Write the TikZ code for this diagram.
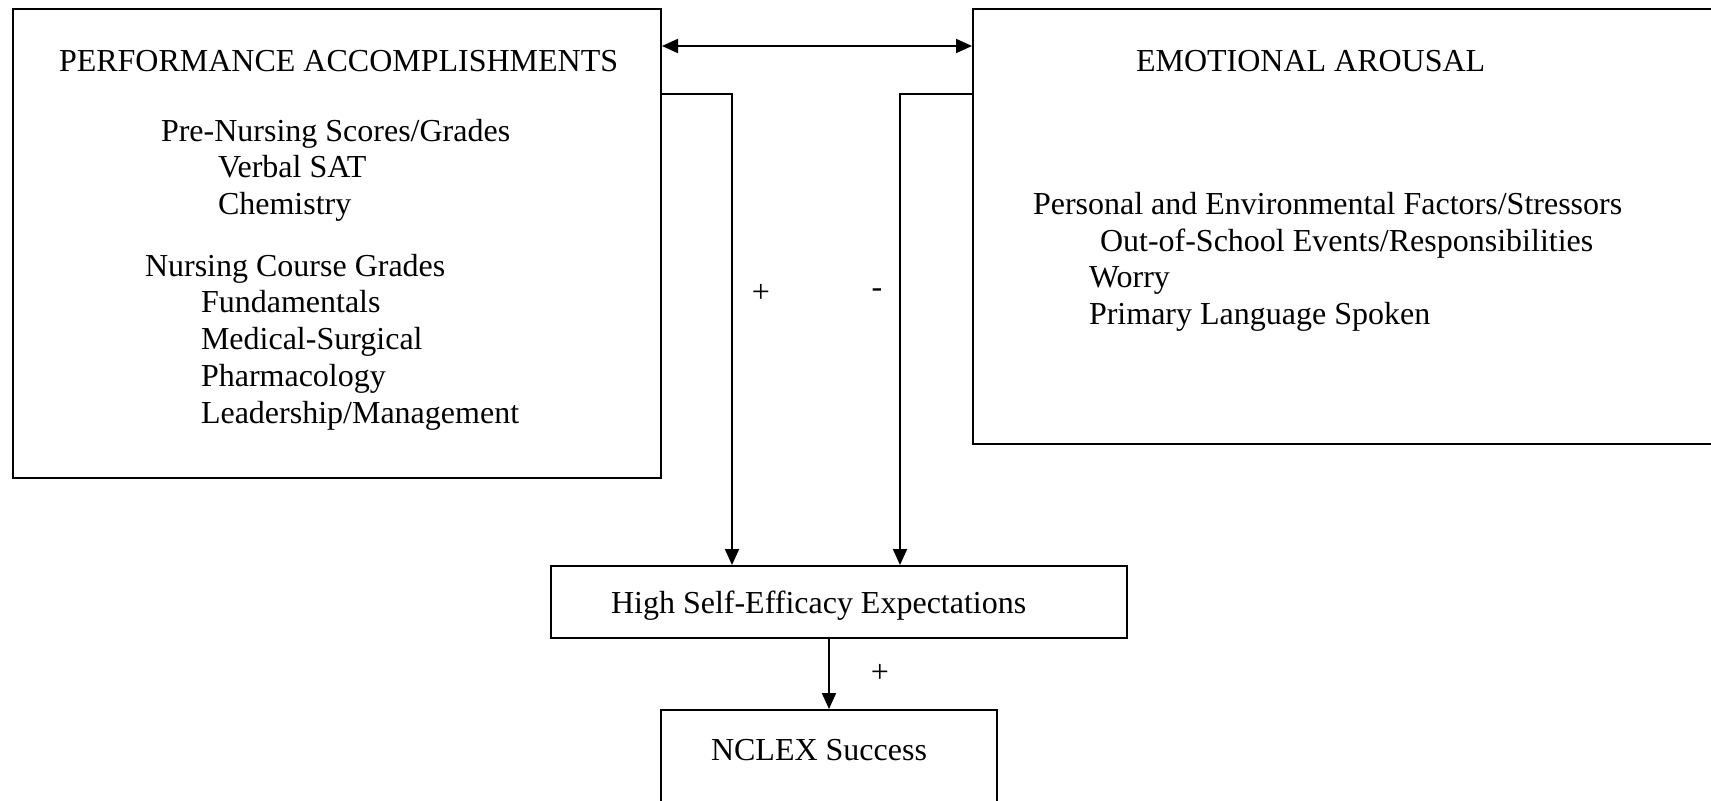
\documentclass[tikz,border=0pt]{standalone}
\usepackage{fontspec}
\setmainfont{Liberation Serif}
\usetikzlibrary{arrows.meta}

\begin{document}
\begin{tikzpicture}[x=0.5pt,y=-0.5pt,line width=1pt,>={Triangle[length=8pt,width=7pt]},
    font=\fontsize{16}{18.35}\selectfont,
    box/.style={draw,rectangle,inner sep=0pt},
    line/.style={anchor=base west,inner sep=0pt},
    sign/.style={inner sep=0pt}]
                        \useasboundingbox (0,0) rectangle (1711,801);

                        % boxes
                        \node[box,minimum width=324pt,minimum height=234.5pt] (perf) at (337,243.5) {};
                        \node[box,minimum width=393.5pt,minimum height=217.5pt] (emo) at (1366.5,226.5) {};
                        \node[box,minimum width=288pt,minimum height=36pt] (high) at (839,602) {};
                        \node[box,minimum width=168pt,minimum height=65pt] (nclex) at (829,775) {};

                        % texts
                        \node[line] (p0) at (58,72) {PERFORMANCE ACCOMPLISHMENTS};
                        \node[line] (p1) at (160,142) {Pre-Nursing Scores/Grades};
                        \node[line] (p2) at (217,178) {Verbal SAT};
                        \node[line] (p3) at (217,215) {Chemistry};
                        \node[line] (p4) at (144,277) {Nursing Course Grades};
                        \node[line] (p5) at (200,313) {Fundamentals};
                        \node[line] (p6) at (200,350) {Medical-Surgical};
                        \node[line] (p7) at (200,387) {Pharmacology};
                        \node[line] (p8) at (200,423) {Leadership/Management};

                        \node[line] (e0) at (1135,72) {EMOTIONAL AROUSAL};
                        \node[line] (e1) at (1032,215) {Personal and Environmental Factors/Stressors};
                        \node[line] (e2) at (1099,252) {Out-of-School Events/Responsibilities};
                        \node[line] (e3) at (1088,288) {Worry};
                        \node[line] (e4) at (1088,325) {Primary Language Spoken};

                        \node[line] (h0) at (610,613) {High Self-Efficacy Expectations};
                        \node[line] (n0) at (710,760) {NCLEX Success};

                        % signs
                        \node[sign] (s1) at (761,293) {+};
                        \node[sign] (s2) at (877,293) {-};
                        \node[sign] (s3) at (880,673) {+};

                        % connectors
                        \coordinate (arr) at (0,46);
                        \coordinate (tap) at (0,94);
                        \coordinate (lx) at (732,0);
                        \coordinate (rx) at (900,0);
                        \draw[<->] (perf.east |- arr) -- (emo.west |- arr);
                        \draw[->] (perf.east |- tap) -| (lx |- high.north);
                        \draw[->] (emo.west |- tap) -| (rx |- high.north);
                        \draw[->] (nclex.north |- high.south) -- (nclex.north);
                    \end{tikzpicture}
\end{document}
